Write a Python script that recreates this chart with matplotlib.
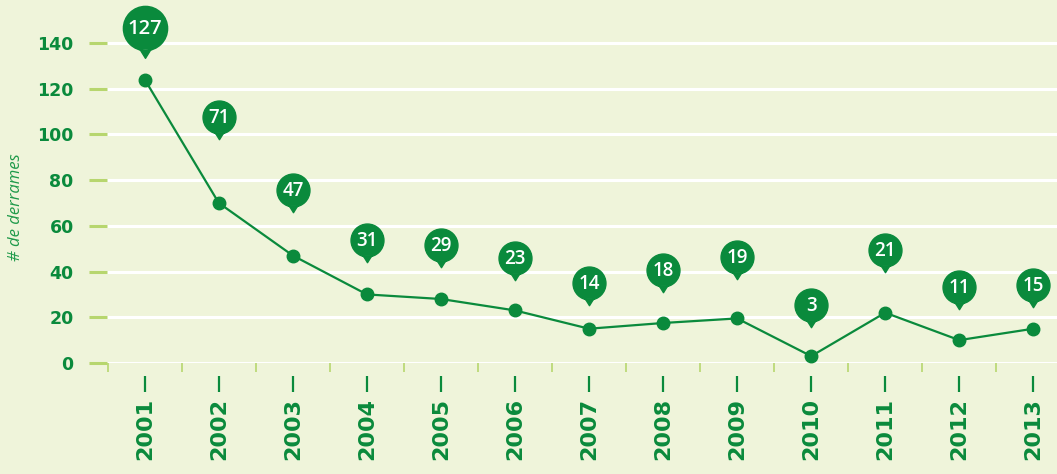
import matplotlib.pyplot as plt
import numpy as np
from matplotlib.path import Path
from matplotlib.transforms import blended_transform_factory

# Data
years = ['2001', '2002', '2003', '2004', '2005', '2006', '2007',
         '2008', '2009', '2010', '2011', '2012', '2013']
spills = [124, 70, 47, 30, 28, 23, 15, 17.5, 19.5, 3, 22, 10, 15]
labels = [127, 71, 47, 31, 29, 23, 14, 18, 19, 3, 21, 11, 15]
# height of the callout bubbles (data units)
bubble_y = [146.5, 107.6, 75.7, 53.8, 51.6, 45.9, 35.0, 40.7, 46.4, 25.4, 49.4, 33.2, 34.1]

bg = '#eff4da'
green = '#0a8a3c'
light = '#b7d66e'

# callout marker: circle with a small pointer underneath
circle = Path.circle((0, 0), 1.0)
tail = Path([(-0.26, -0.93), (0.26, -0.93), (0, -1.35), (-0.26, -0.93)],
            [Path.MOVETO, Path.LINETO, Path.LINETO, Path.CLOSEPOLY])
bubble = Path.make_compound_path(circle, tail)

fig = plt.figure(figsize=(10.57, 4.74), dpi=100)
fig.patch.set_facecolor(bg)
ax = fig.add_axes([107 / 1057, 111 / 474, 950 / 1057, 363 / 474])
ax.set_facecolor(bg)

x = np.arange(len(years))

# gridlines
ax.set_yticks(np.arange(0, 141, 20))
ax.grid(axis='y', color='white', linewidth=2.2, zorder=0)
ax.set_axisbelow(True)

ax.plot(x, spills, color=green, linewidth=1.6, marker='o', markersize=9,
        zorder=3, clip_on=False)

# callouts
for i, (xi, by, lab) in enumerate(zip(x, bubble_y, labels)):
    big = i == 0
    ax.plot(xi, by, marker=bubble, markersize=43 if big else 32, color=green,
            linestyle='none', zorder=4, clip_on=False)
    ax.text(xi, by - (0.6 if big else 0.4), str(lab), color='white', fontsize=14.5 if big else 13.5,
            fontweight='semibold', family='Open Sans', ha='center', va='center',
            zorder=5, clip_on=False)

ax.set_xlim(-0.51, 12.32)
ax.set_ylim(0, 158.8)

for s in ax.spines.values():
    s.set_visible(False)

# y ticks
ax.tick_params(axis='y', length=13, width=2.2, color=light, pad=11,
               labelcolor=green, labelsize=12.5)
for t in ax.get_yticklabels():
    t.set_fontweight('bold')

# x ticks: labels on integers, light ticks between years
ax.set_xticks(x)
ax.set_xticklabels(years, rotation=90, fontsize=16, fontweight='bold', color=green)
ax.tick_params(axis='x', which='major', length=0, pad=25)
ax.set_xticks(np.arange(-0.5, 12, 1), minor=True)
ax.tick_params(axis='x', which='minor', length=6.5, width=1.2, color=light)

# dark year tick marks below the axis
trans = blended_transform_factory(ax.transData, ax.transAxes)
ax.plot(x, np.full(len(x), -0.0565), transform=trans, marker='|', markersize=12,
        markeredgewidth=1.6, color=green, linestyle='none', clip_on=False)

fig.text(16 / 1057, 1 - 207 / 474, '# de derrames', rotation=90, style='italic',
         color='#1f9a4a', fontsize=12, family='Open Sans', ha='center', va='center')

fig.savefig('out.png', dpi=100, facecolor=bg)
